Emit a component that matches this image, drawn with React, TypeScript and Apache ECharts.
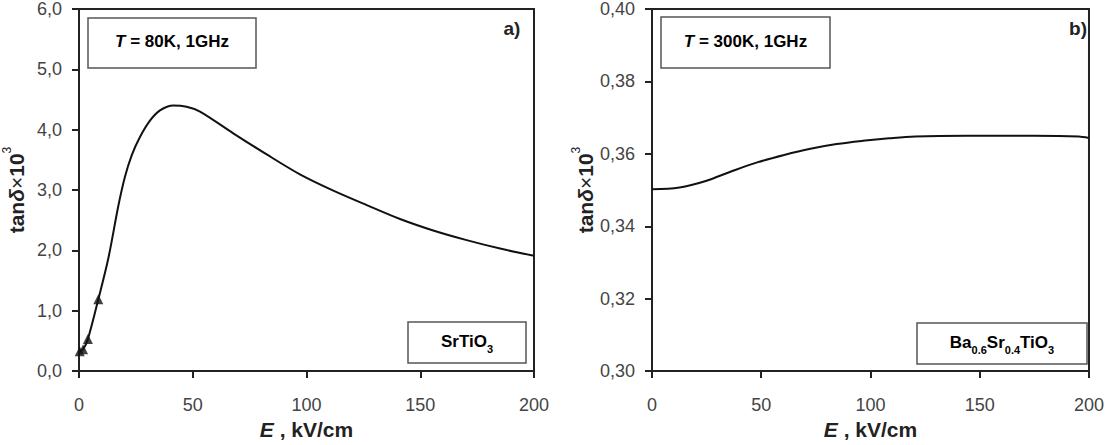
import React, { useEffect, useRef } from "react";
import * as echarts from "echarts";

// Panel a) SrTiO3, T = 80 K: loss tangent (x10^3) vs bias field, kV/cm
const fieldA = [0, 1.8, 3.9, 8.5, 12.9, 17.3, 20.2, 23.2, 26.8, 31.2, 35.6, 41.5, 47.3, 53.2, 67.8, 82.5, 97.1, 111.8, 126.5, 141.1, 155.7, 170.4, 185.1, 200];
const tanA = [0.33, 0.36, 0.53, 1.19, 1.87, 2.74, 3.22, 3.58, 3.88, 4.15, 4.32, 4.4, 4.38, 4.3, 3.94, 3.59, 3.26, 2.99, 2.75, 2.52, 2.33, 2.17, 2.03, 1.91];

// Measured points (triangles) for SrTiO3
const measuredFieldA = [0.3, 1.8, 3.9, 8.5];
const measuredTanA = [0.33, 0.36, 0.53, 1.19];

// Panel b) Ba0.6Sr0.4TiO3, T = 300 K
const fieldB = [0, 12.6, 24.6, 36.5, 48.5, 60.5, 72.5, 84.5, 96.5, 108.5, 120.4, 144.4, 174.4, 195.4, 200];
const tanB = [0.3502, 0.3507, 0.3525, 0.3552, 0.3577, 0.3597, 0.3614, 0.3627, 0.3636, 0.3643, 0.3648, 0.365, 0.365, 0.3648, 0.3644];

const FONT = "Liberation Sans, Arial, sans-serif";
const INK = "#222";
const LABEL = "#444";

const zip = (xs: number[], ys: number[]) => xs.map((x, i) => [x, ys[i]]);

const yName = "{t|tan}{d|δ}{x|×}{t|10}{s|3}";
const yNameStyle = {
  fontFamily: FONT,
  color: INK,
  rich: {
    t: { fontSize: 21, fontWeight: "bold", fontFamily: FONT, color: INK, lineHeight: 24, padding: [5, 0, 0, 0], verticalAlign: "top" },
    d: { fontSize: 21, fontWeight: "bold", fontStyle: "italic", fontFamily: FONT, color: INK, lineHeight: 24, padding: [5, 0, 0, 0], verticalAlign: "top" },
    x: { fontSize: 21, fontFamily: FONT, color: INK, lineHeight: 24, padding: [5, 0, 0, 0], verticalAlign: "top" },
    s: { fontSize: 12, fontFamily: FONT, color: INK, lineHeight: 12, verticalAlign: "top" },
  },
};

const xName = "{e|E}{t| , kV/cm}";
const xNameStyle = {
  rich: {
    e: { fontSize: 21, fontWeight: "bold", fontStyle: "italic", fontFamily: FONT, color: INK },
    t: { fontSize: 21, fontWeight: "bold", fontFamily: FONT, color: INK },
  },
};

const boxRich = {
  n: { fontSize: 17, fontWeight: "bold", fontFamily: FONT, color: INK, lineHeight: 20, verticalAlign: "top" },
  i: { fontSize: 17, fontWeight: "bold", fontStyle: "italic", fontFamily: FONT, color: INK, lineHeight: 20, verticalAlign: "top" },
  s: { fontSize: 11, fontWeight: "bold", fontFamily: FONT, color: INK, lineHeight: 11, padding: [11, 0, 0, 0], verticalAlign: "top" },
};

function labelBox(x: number, y: number, w: number, h: number, text: string) {
  return {
    type: "group",
    children: [
      {
        type: "rect",
        shape: { x, y, width: w, height: h },
        style: { fill: "#fff", stroke: "#555", lineWidth: 1.5 },
      },
      {
        type: "text",
        x: x + w / 2,
        y: y + h / 2,
        style: { text, rich: boxRich, align: "center", verticalAlign: "middle" },
      },
    ],
  };
}

function yAxis(gridIndex: number, min: number, max: number, interval: number, digits: number) {
  return {
    type: "value",
    gridIndex,
    min,
    max,
    interval,
    name: yName,
    nameLocation: "middle",
    nameRotate: 90,
    nameGap: 54,
    nameTextStyle: yNameStyle,
    axisLine: { show: true, lineStyle: { color: INK, width: 2 } },
    axisTick: { show: true, inside: false, length: 7, lineStyle: { color: INK, width: 2 } },
    axisLabel: {
      fontFamily: FONT,
      fontSize: 18,
      color: LABEL,
      margin: 17,
      formatter: (v: number) => v.toFixed(digits).replace(".", ","),
    },
    splitLine: { show: false },
  };
}

function xAxis(gridIndex: number) {
  return {
    type: "value",
    gridIndex,
    min: 0,
    max: 200,
    interval: 50,
    name: xName,
    nameLocation: "middle",
    nameGap: 41,
    nameTextStyle: xNameStyle,
    axisLine: { show: true, lineStyle: { color: INK, width: 2 } },
    axisTick: { show: true, inside: false, length: 7, lineStyle: { color: INK, width: 2 } },
    axisLabel: { fontFamily: FONT, fontSize: 18, color: LABEL, margin: 25 },
    splitLine: { show: false },
  };
}

export default function App() {
  const ref = useRef<HTMLDivElement>(null);

  useEffect(() => {
    if (!ref.current) return;
    const chart = echarts.init(ref.current, null, { renderer: "svg" });
    chart.setOption({
      animation: false,
      backgroundColor: "#fff",
      grid: [
        { left: 79, top: 7, width: 455, height: 367.5, show: true, borderColor: INK, borderWidth: 2, backgroundColor: "transparent" },
        { left: 652, top: 7, width: 445, height: 368, show: true, borderColor: INK, borderWidth: 2, backgroundColor: "transparent" },
      ],
      xAxis: [xAxis(0), xAxis(1)],
      yAxis: [yAxis(0, 0, 6, 1, 1), yAxis(1, 0.3, 0.4, 0.02, 2)],
      series: [
        {
          type: "line",
          xAxisIndex: 0,
          yAxisIndex: 0,
          data: zip(fieldA, tanA),
          smooth: 0.3,
          showSymbol: false,
          lineStyle: { color: "#111", width: 2 },
          z: 3,
        },
        {
          type: "scatter",
          xAxisIndex: 0,
          yAxisIndex: 0,
          data: zip(measuredFieldA, measuredTanA),
          symbol: "triangle",
          symbolSize: 10,
          itemStyle: { color: "#111" },
          z: 4,
        },
        {
          type: "line",
          xAxisIndex: 1,
          yAxisIndex: 1,
          data: zip(fieldB, tanB),
          smooth: 0.35,
          showSymbol: false,
          lineStyle: { color: "#111", width: 2 },
          z: 3,
        },
      ],
      graphic: [
        labelBox(88, 18, 168, 50, "{i|T}{n| = 80K, 1GHz}"),
        labelBox(661, 17, 169, 51, "{i|T}{n| = 300K, 1GHz}"),
        labelBox(408, 322, 118, 41, "{n|SrTiO}{s|3}"),
        labelBox(917, 323, 170, 41, "{n|Ba}{s|0.6}{n|Sr}{s|0.4}{n|TiO}{s|3}"),
        {
          type: "text",
          x: 512,
          y: 28,
          style: { text: "a)", fontFamily: FONT, fontSize: 19, fontWeight: "bold", fill: INK, align: "center", verticalAlign: "middle" },
        },
        {
          type: "text",
          x: 1078,
          y: 28,
          style: { text: "b)", fontFamily: FONT, fontSize: 19, fontWeight: "bold", fill: INK, align: "center", verticalAlign: "middle" },
        },
      ],
    });
    return () => chart.dispose();
  }, []);

  return (
    <div
      ref={ref}
      style={{ position: "absolute", left: 0, top: 0, width: 1107, height: 445 }}
    />
  );
}
